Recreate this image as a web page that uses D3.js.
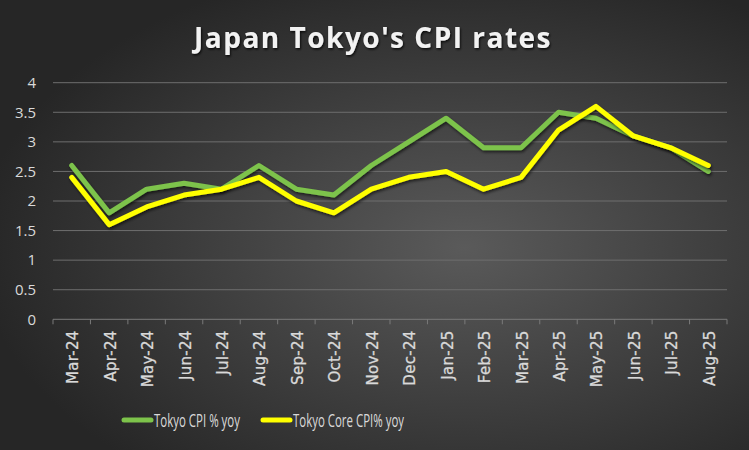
<!DOCTYPE html>
<html><head><meta charset="utf-8">
<script src="https://cdn.jsdelivr.net/npm/d3@7"></script>
<style>html,body{margin:0;padding:0;background:#333;}svg{display:block;}</style>
</head><body>
<svg id="chart" width="749" height="450"></svg>
<script>
const categories = ["Mar-24","Apr-24","May-24","Jun-24","Jul-24","Aug-24","Sep-24","Oct-24","Nov-24","Dec-24","Jan-25","Feb-25","Mar-25","Apr-25","May-25","Jun-25","Jul-25","Aug-25"];
const cpi  = [2.6,1.8,2.2,2.3,2.2,2.6,2.2,2.1,2.6,3.0,3.4,2.9,2.9,3.5,3.4,3.1,2.9,2.5];
const core = [2.4,1.6,1.9,2.1,2.2,2.4,2.0,1.8,2.2,2.4,2.5,2.2,2.4,3.2,3.6,3.1,2.9,2.6];
const yTicks = [0,0.5,1,1.5,2,2.5,3,3.5,4];
const seriesNames = ["Tokyo CPI % yoy","Tokyo Core CPI% yoy"];
const colors = ["#7DC34B","#FFFF00"];

const W = 749, H = 450;
const svg = d3.select("#chart");
const defs = svg.append("defs");
const rg = defs.append("radialGradient").attr("id","bg").attr("cx","62%").attr("cy","55%").attr("r","65%");
rg.append("stop").attr("offset","0%").attr("stop-color","#5a5a5a");
rg.append("stop").attr("offset","100%").attr("stop-color","#262626");
const f = defs.append("filter").attr("id","shadow").attr("x","-10%").attr("y","-10%").attr("width","120%").attr("height","130%");
f.append("feDropShadow").attr("dx",1).attr("dy",2).attr("stdDeviation",1.5).attr("flood-color","#000").attr("flood-opacity",0.6);
const ts = defs.append("filter").attr("id","tshadow").attr("x","-5%").attr("y","-20%").attr("width","110%").attr("height","150%");
ts.append("feDropShadow").attr("dx",1).attr("dy",1.5).attr("stdDeviation",1).attr("flood-color","#000").attr("flood-opacity",0.8);

svg.append("rect").attr("width",W).attr("height",H).attr("fill","url(#bg)");

const m = {left:53, right:22, top:82.7, bottom:130.7};
const x = d3.scaleBand().domain(categories).range([m.left, W - m.right]);
const y = d3.scaleLinear().domain([0,4]).range([H - m.bottom, m.top]);

// title
svg.append("text").attr("x",373).attr("y",48).attr("text-anchor","middle")
  .attr("font-family","'Open Sans', sans-serif").attr("font-weight","bold").attr("font-size",28)
  .attr("letter-spacing","1.5px").attr("fill","#f2f2f2").attr("filter","url(#tshadow)")
  .text("Japan Tokyo's CPI rates");

// grid
svg.append("g").selectAll("line").data(yTicks.filter(d=>d>0)).join("line")
  .attr("x1",m.left).attr("x2",W-m.right).attr("y1",d=>y(d)).attr("y2",d=>y(d))
  .attr("stroke","#6e6e6e").attr("stroke-width",1);

// y labels
const yAxis = svg.append("g").attr("transform",`translate(${m.left},0)`)
  .call(d3.axisLeft(y).tickValues(yTicks).tickSize(0).tickPadding(17).tickFormat(d3.format("")));
yAxis.select(".domain").remove();
yAxis.selectAll("text").attr("font-family","'Open Sans', sans-serif").attr("font-size",15).attr("fill","#d9d9d9");

// x axis
const xAxisG = svg.append("g").attr("transform",`translate(0,${y(0)})`);
xAxisG.append("line").attr("x1",m.left).attr("x2",W-m.right).attr("stroke","#7a7a7a").attr("stroke-width",1);
const bounds = categories.map(c=>x(c)).concat([W-m.right]);
xAxisG.selectAll("line.tk").data(bounds).join("line").attr("class","tk")
  .attr("x1",d=>d).attr("x2",d=>d).attr("y1",0).attr("y2",5).attr("stroke","#7a7a7a");
xAxisG.selectAll("text").data(categories).join("text")
  .attr("transform",d=>`translate(${x(d)+x.bandwidth()/2+6.5},11) rotate(-90)`)
  .attr("text-anchor","end")
  .attr("font-family","'DejaVu Sans', sans-serif").attr("font-size",15)
  .attr("letter-spacing","0.3px").attr("stroke","#d9d9d9").attr("stroke-width",0.3)
  .attr("fill","#d9d9d9").text(d=>d);

// lines
const line = d3.line().x((d,i)=>x(categories[i])+x.bandwidth()/2).y(d=>y(d));
[cpi, core].forEach((s,k)=>{
  svg.append("path").datum(s).attr("d",line).attr("fill","none")
    .attr("stroke",colors[k]).attr("stroke-width",5).attr("stroke-linejoin","round").attr("stroke-linecap","round")
    .attr("filter","url(#shadow)");
});

// legend
const leg = [{x:124, tx:154, w:86}, {x:263, tx:293, w:111}];
seriesNames.forEach((n,k)=>{
  svg.append("line").attr("x1",leg[k].x).attr("x2",leg[k].x+27).attr("y1",420).attr("y2",420)
    .attr("stroke",colors[k]).attr("stroke-width",5).attr("stroke-linecap","round");
  svg.append("text").attr("x",leg[k].tx).attr("y",427)
    .attr("font-family","'Open Sans', sans-serif").attr("font-size",17.5)
    .attr("textLength",leg[k].w).attr("lengthAdjust","spacingAndGlyphs")
    .attr("fill","#d9d9d9").text(n);
});
</script>
</body></html>
